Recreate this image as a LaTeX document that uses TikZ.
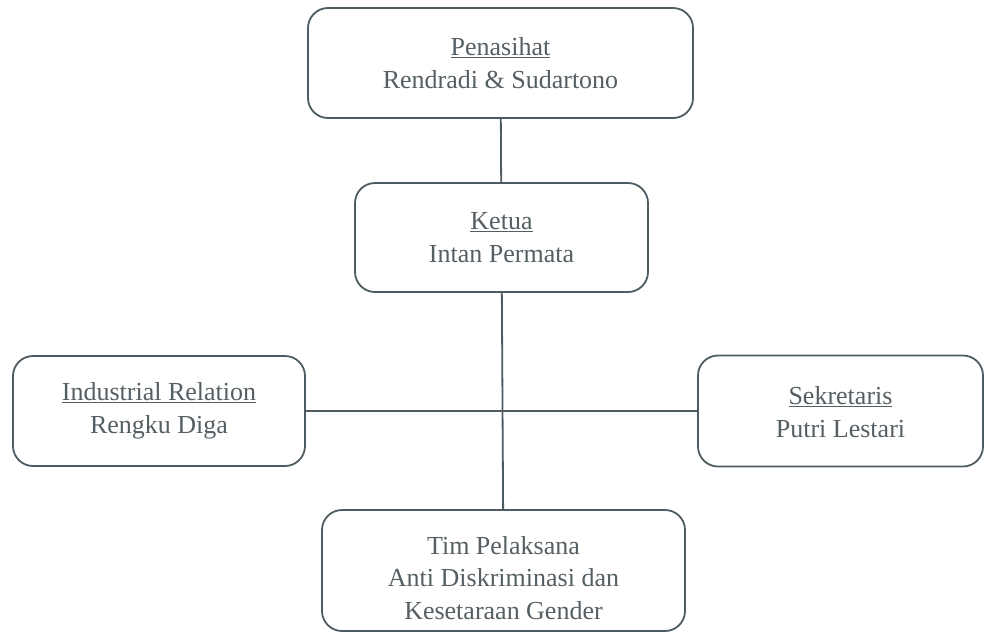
\documentclass[tikz,border=0pt]{standalone}
\usepackage{fontspec}
\setmainfont{Liberation Serif}
\usetikzlibrary{positioning}
\definecolor{inkgray}{RGB}{78,92,98}
\definecolor{textgray}{RGB}{85,95,99}
\begin{document}
\begin{tikzpicture}[
    x=1pt, y=-1pt,
    unit/.style={rectangle, rounded corners=20pt, draw=inkgray, line width=1.8pt, text=textgray, align=center, font=\fontsize{26}{32.5}\selectfont},
    link/.style={draw=inkgray, line width=1.8pt}
]
    \useasboundingbox (0,0) rectangle (985,633);

    \node[unit, minimum width=385pt, minimum height=110pt] (penasihat) at (500.5,63) {\underline{Penasihat}\\Rendradi \& Sudartono};
    \node[unit, minimum width=293pt, minimum height=109pt] (ketua) at (501.5,237.5) {\underline{Ketua}\\Intan Permata};
    \node[unit, minimum width=292pt, minimum height=110pt] (industri) at (159,411) {\underline{Industrial Relation}\\Rengku Diga};
    \node[unit, minimum width=285pt, minimum height=111pt] (sekretaris) at (840.5,411) {\rule{0pt}{20pt}\underline{Sekretaris}\\Putri Lestari};
    \node[unit, minimum width=363pt, minimum height=121pt] (tim) at (503.5,570.5) {\rule{0pt}{33pt}Tim Pelaksana\\Anti Diskriminasi dan\\Kesetaraan Gender};

    \draw[link] (penasihat) -- (ketua);
    \draw[link] (ketua) -- (tim);
    \draw[link] (industri) -- (sekretaris);
\end{tikzpicture}
\end{document}
